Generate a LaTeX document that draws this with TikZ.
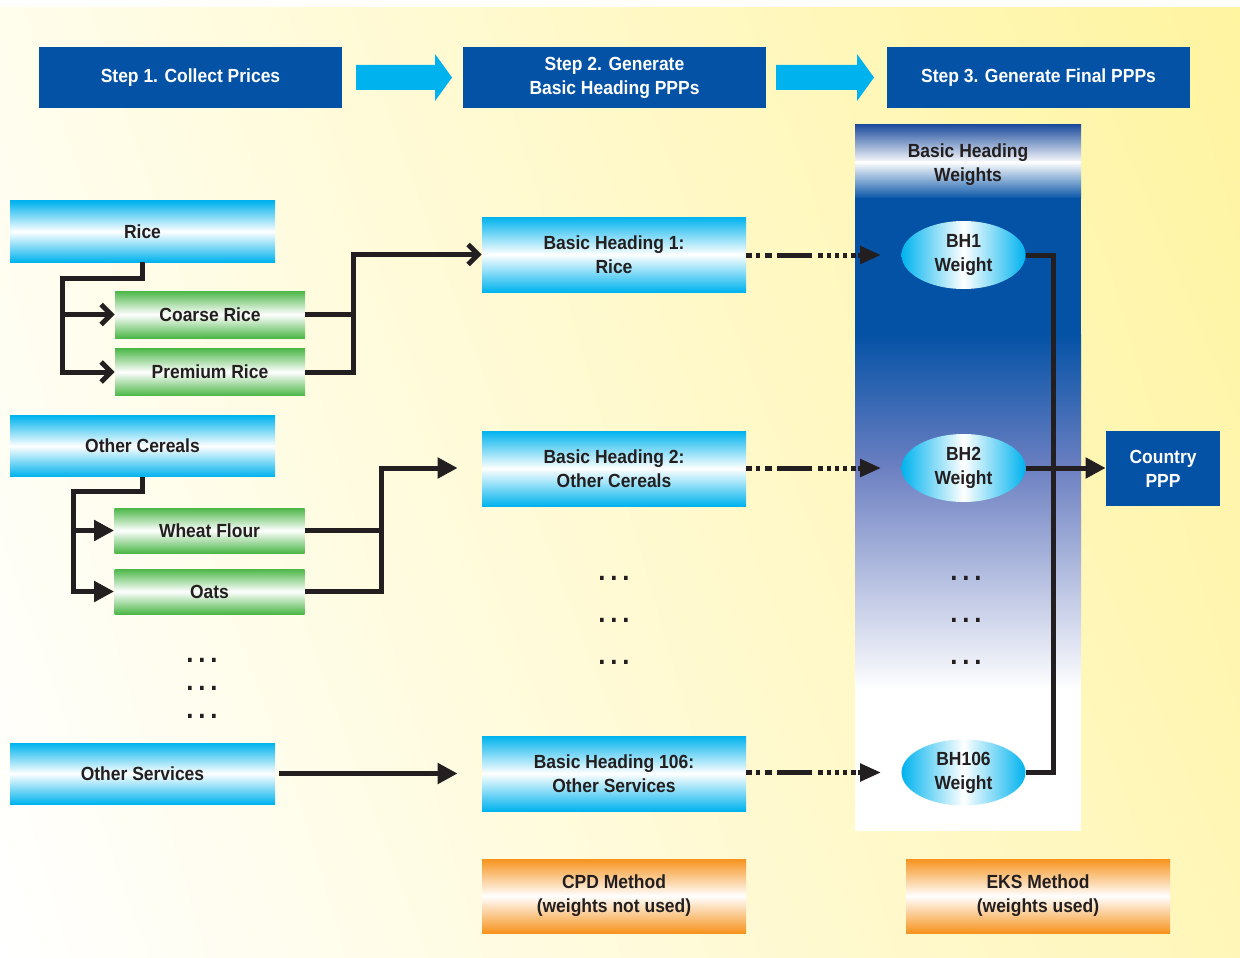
\documentclass[tikz,border=0pt]{standalone}
\usepackage{fontspec}
\setmainfont{Liberation Sans}[FakeStretch=0.92]
\usetikzlibrary{arrows.meta,shapes.geometric,shadings}
\definecolor{ink}{HTML}{231F20}
\definecolor{dblue}{HTML}{0452A6}
\definecolor{cyanc}{HTML}{00B3EE}
\definecolor{greenc}{HTML}{4CB748}
\definecolor{orangec}{HTML}{F7931E}
\definecolor{panelmid}{HTML}{6B7FC1}
\definecolor{paneltop}{HTML}{1F4E9E}
\definecolor{bgul}{HTML}{FFFDEC}
\definecolor{bgur}{HTML}{FFF4A0}
\definecolor{bgll}{HTML}{FFFFFF}
\definecolor{bglr}{HTML}{FFF6B8}
\begin{document}
\begin{tikzpicture}[x=0.5pt,y=-0.5pt,
  every node/.style={font=\fontsize{9.5}{12}\selectfont\bfseries, text=ink, align=center, inner sep=0pt},
  stepbox/.style={fill=dblue, text=white, minimum width=151.5pt, minimum height=30.5pt},
  cyanbox/.style={top color=cyanc, bottom color=cyanc, middle color=white, minimum width=132.5pt, minimum height=30.5pt},
  greenbox/.style={top color=greenc, bottom color=greenc, middle color=white, minimum width=95pt, minimum height=23.5pt},
  headbox/.style={top color=cyanc, bottom color=cyanc, middle color=white, minimum width=132pt, minimum height=37.5pt},
  methodbox/.style={top color=orangec, bottom color=orangec, middle color=white, minimum width=132pt, minimum height=37pt},
  weightnode/.style={ellipse, left color=cyanc, right color=cyanc, middle color=white, minimum width=62pt, minimum height=34pt},
  pppbox/.style={fill=dblue, text=white, minimum width=57pt, minimum height=37.5pt},
  blockarrow/.style={fill=cyanc},
  conn/.style={draw=ink, line width=2.5pt},
  barb/.style={-{Straight Barb[length=5pt,width=10pt]}},
  tri/.style={-{Triangle[length=10pt,width=10pt]}},
  dotconn/.style={draw=ink, line width=2.5pt, -{Triangle[length=10.5pt,width=8.5pt]},
    dash pattern=on 3pt off 2pt on 2pt off 2.5pt on 3.5pt off 2.5pt on 17.5pt off 3pt on 2.2pt off 1.9pt on 2.2pt off 1.9pt on 2.2pt off 1.9pt on 2.2pt off 1.9pt on 2.2pt off 1.2pt on 20pt off 1pt},
  dotsnode/.style={font=\fontsize{14}{14}\selectfont\bfseries, anchor=base},
]
\useasboundingbox (0,0) rectangle (1240,957);
\fill[white] (0,0) rectangle (1240,957);
\shade[upper left=bgul, upper right=bgur, lower left=bgll, lower right=bglr] (0,8) rectangle (1240,957);

% weights panel
\shade[top color=paneltop, bottom color=white] (855,125) rectangle (1081,163);
\shade[top color=white, bottom color=dblue] (855,162) rectangle (1081,199);
\fill[dblue] (855,198) rectangle (1081,335);
\shade[top color=dblue, bottom color=panelmid] (855,334) rectangle (1081,467);
\shade[top color=panelmid, bottom color=white] (855,466) rectangle (1081,690);
\fill[white] (855,689) rectangle (1081,831);
\node (bhw) at (968,164.5) {Basic Heading\\Weights};

% step row
\node[stepbox] (s1) at (190.5,77.5) {Step 1. Collect Prices};
\node[stepbox] (s2) at (614.5,77.5) {Step 2. Generate\\Basic Heading PPPs};
\node[stepbox] (s3) at (1038.5,77.5) {Step 3. Generate Final PPPs};
\fill[blockarrow] (356,65) -- (435,65) -- (435,54) -- (452,77.5) -- (435,101) -- (435,90) -- (356,90) -- cycle;
\fill[blockarrow] (776,65) -- (857,65) -- (857,54) -- (874,77.5) -- (857,101) -- (857,90) -- (776,90) -- cycle;

% left column
\node[cyanbox] (rice) at (142.5,231.5) {Rice};
\node[greenbox] (coarse) at (210,314.5) {Coarse Rice};
\node[greenbox] (premium) at (210,372) {Premium Rice};
\node[cyanbox] (cereals) at (142.5,446) {Other Cereals};
\node[greenbox, minimum height=22.5pt] (wheat) at (209.5,530.5) {Wheat Flour};
\node[greenbox, minimum height=22.5pt] (oats) at (209.5,591.5) {Oats};
\node[dotsnode] (ld1) at (202,662) {.\hspace{2.4pt}.\hspace{2.4pt}.};
\node[dotsnode] (ld2) at (202,690) {.\hspace{2.4pt}.\hspace{2.4pt}.};
\node[dotsnode] (ld3) at (202,718) {.\hspace{2.4pt}.\hspace{2.4pt}.};
\node[cyanbox] (services) at (142.5,773.5) {Other Services};

% middle column
\node[headbox] (bh1) at (614,254.5) {Basic Heading 1:\\Rice};
\node[headbox] (bh2) at (614,468.5) {Basic Heading 2:\\Other Cereals};
\node[dotsnode] (md1) at (614,580) {.\hspace{2.4pt}.\hspace{2.4pt}.};
\node[dotsnode] (md2) at (614,622) {.\hspace{2.4pt}.\hspace{2.4pt}.};
\node[dotsnode] (md3) at (614,664) {.\hspace{2.4pt}.\hspace{2.4pt}.};
\node[headbox] (bh106) at (614,773.5) {Basic Heading 106:\\Other Services};
\node[methodbox] (cpd) at (614,896) {CPD Method\\(weights not used)};

% right column
\node[weightnode] (e1) at (963.5,255) {BH1\\Weight};
\node[weightnode] (e2) at (963.5,468) {BH2\\Weight};
\node[dotsnode] (rd1) at (966,580) {.\hspace{2.4pt}.\hspace{2.4pt}.};
\node[dotsnode] (rd2) at (966,622) {.\hspace{2.4pt}.\hspace{2.4pt}.};
\node[dotsnode] (rd3) at (966,664) {.\hspace{2.4pt}.\hspace{2.4pt}.};
\node[weightnode, minimum height=33pt] (e106) at (963.5,772.5) {BH106\\Weight};
\node[pppbox] (ppp) at (1163,468.5) {Country\\PPP};
\node[methodbox] (eks) at (1038,896) {EKS Method\\(weights used)};

% rice tree
\coordinate (rb) at (62,314.5);
\draw[conn, barb] (rice.south -| 142,0) |- (62,278) |- (premium.west);
\draw[conn, barb] (rb) -- (coarse.west);
\draw[conn] (coarse.east) -- (353,314.5);
\draw[conn, barb] (premium.east) -| (353,300) |- (bh1.west);

% cereals tree
\coordinate (cb) at (73,530.5);
\draw[conn, tri] (cereals.south -| 142,0) |- (73,491) |- (oats.west);
\draw[conn, tri] (cb) -- (wheat.west);
\draw[conn] (wheat.east) -- (381,530.5);
\draw[conn, tri, shorten >=12pt] (oats.east) -| (381,520) |- (bh2.west |- e2.west);

% services
\draw[conn, tri, shorten <=2pt, shorten >=12pt] (services.east) -- (bh106.west);

% dotted to weights
\draw[dotconn, shorten >=10pt] (bh1.east |- e1.west) -- (e1.west);
\draw[dotconn, shorten >=10pt] (bh2.east |- e2.west) -- (e2.west);
\draw[dotconn, shorten >=10pt] (bh106.east |- e106.west) -- (e106.west);

% weights to country PPP
\draw[conn] (e1.east) -| (1053,500) |- (e106.east);
\draw[conn, tri] (e2.east) -- (e2.east -| ppp.west);
\end{tikzpicture}
\end{document}
